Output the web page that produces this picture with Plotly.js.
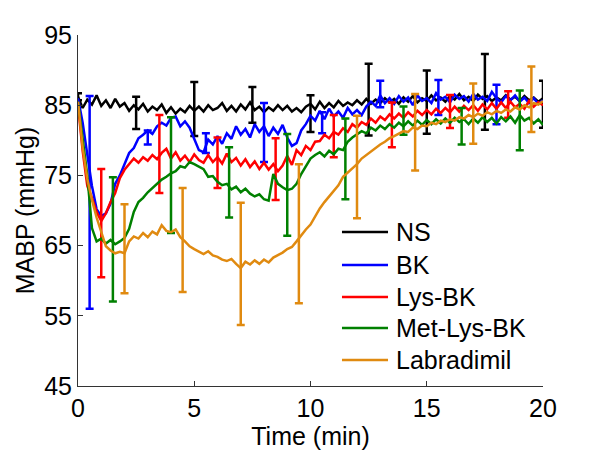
<!DOCTYPE html>
<html>
<head>
<meta charset="utf-8">
<script src="https://cdn.plot.ly/plotly-3.0.1.min.js"></script>
<style>html,body{margin:0;padding:0;background:#fff;}#chart{width:600px;height:450px;}</style>
</head>
<body>
<div id="chart"></div>
<script>
// Mean arterial blood pressure traces, sampled every 0.2 min from 0 to 20 min
const NS = [86.2,84.6,85.8,85.1,86.4,84.9,85.7,84.6,85.9,84.8,85.3,84.2,85.0,84.4,85.2,84.1,84.8,84.3,85.1,83.9,
84.7,83.8,84.5,84.0,84.9,84.2,84.8,84.1,85.0,84.3,84.6,85.3,84.2,84.9,84.1,85.1,84.4,85.4,84.3,84.8,
84.0,84.7,84.2,85.0,84.3,84.9,84.1,84.6,84.0,84.8,85.2,84.4,85.5,84.6,85.3,84.7,85.6,84.9,85.4,85.0,
85.7,85.1,85.9,85.2,85.8,85.3,86.0,85.4,85.9,85.2,86.1,85.5,86.3,85.4,86.0,85.6,86.4,85.7,86.1,85.5,
86.3,85.8,86.6,85.7,86.2,85.6,86.5,85.9,86.3,85.6,86.1,85.7,86.4,85.8,86.2,85.6,86.3,85.7,86.1,85.5,86.0];
const BK = [86.0,82.5,78.0,73.5,70.2,69.2,69.6,71.0,73.8,75.0,76.6,78.2,78.9,80.3,80.8,81.4,80.9,82.0,82.5,82.1,
83.2,83.4,82.0,82.7,81.8,80.2,78.6,78.3,80.1,79.4,80.6,79.5,81.0,80.2,82.0,80.8,81.6,80.4,82.3,81.2,
82.0,80.6,81.8,80.9,82.2,80.4,79.2,79.6,81.4,82.3,83.5,82.8,84.2,83.0,84.5,83.4,84.1,83.2,84.6,83.7,
84.3,83.6,84.8,85.5,84.9,86.4,85.3,86.0,85.2,86.3,85.5,86.1,85.0,86.4,85.6,86.0,85.3,86.7,85.8,86.2,
85.4,86.5,85.9,86.3,85.5,86.6,85.8,86.2,85.6,86.9,86.0,85.4,86.3,85.7,86.4,85.5,86.1,85.3,86.0,85.2,85.7];
const LYS_BK = [85.0,78.5,73.5,71.8,69.8,68.5,69.6,71.2,72.5,74.6,75.8,76.6,77.4,76.8,77.6,77.1,77.9,77.3,78.2,78.8,
77.4,78.3,77.1,77.8,76.9,78.0,77.2,76.8,77.9,76.9,77.6,76.7,78.1,76.9,77.5,76.4,77.3,76.2,77.0,75.9,
76.8,75.8,76.6,75.6,76.4,77.8,76.5,78.6,77.9,79.2,78.6,79.8,79.9,80.8,80.3,81.2,80.8,81.7,81.2,82.3,
81.8,82.6,82.2,83.1,82.5,83.4,82.9,83.7,83.1,83.8,83.2,84.0,83.4,84.2,83.6,84.3,83.7,84.5,83.9,84.6,
84.0,84.8,84.1,84.9,84.3,85.0,84.2,85.1,84.4,85.3,84.5,85.4,84.6,85.5,84.7,85.2,84.5,85.6,84.8,85.4,85.0];
const MET_LYS_BK = [85.5,80.5,75.0,67.5,65.6,66.0,65.3,65.8,65.2,65.6,66.1,67.4,69.8,71.2,71.8,72.6,73.2,73.9,74.4,74.8,
75.3,75.6,76.3,76.1,76.9,76.6,76.2,75.9,74.8,74.9,74.1,73.6,73.8,73.0,73.4,72.6,73.1,72.4,72.0,72.3,
71.6,71.4,75.2,73.8,73.3,72.9,73.1,73.8,75.2,76.4,77.4,77.9,78.3,77.7,78.5,78.0,78.8,78.6,79.8,80.4,
80.9,81.3,81.0,81.8,81.4,82.1,81.6,82.3,81.8,82.5,82.0,82.7,82.1,82.8,82.2,82.9,82.3,83.0,82.4,83.1,
82.5,83.2,82.6,83.0,82.3,83.1,82.5,83.3,82.6,83.2,82.4,83.3,82.7,83.4,82.5,83.6,82.8,83.2,82.4,83.0,82.2];
const LABRADIMIL = [85.5,79.0,74.5,71.5,69.0,66.8,64.9,64.3,63.9,64.1,63.9,65.6,66.3,66.0,66.8,66.2,67.0,66.6,67.9,67.1,
66.9,67.3,66.2,65.6,64.9,64.5,64.1,63.8,64.2,63.6,63.4,63.0,62.8,63.1,62.4,61.8,62.7,62.3,62.9,62.4,
63.0,62.6,63.3,63.6,64.0,64.5,64.8,65.6,66.5,67.3,68.0,69.2,70.3,71.2,72.0,72.8,73.6,74.8,75.4,75.9,
76.6,77.4,77.9,78.5,78.9,79.4,79.8,80.3,80.6,81.0,81.3,81.2,81.8,81.6,82.1,82.0,82.5,82.3,82.8,82.6,
83.0,82.8,83.3,83.1,83.6,83.3,83.8,83.5,84.0,83.7,84.2,83.9,84.4,84.1,84.7,84.4,85.0,84.7,85.3,85.1,85.6];
const TIME = NS.map((_, i) => Math.round(i * 2) / 10);

// Error bars (time, mean, +/- error)
const NS_ERR_T = [0, 2.5, 5, 7.5, 10, 12.5, 15, 17.5, 20];
const NS_ERR_Y = [86.2, 83.9, 84.45, 85.05, 83.8, 85.8, 85.45, 86.9, 85.15];
const NS_ERR_E = [0.5, 2.3, 3.85, 2.55, 2.6, 5.1, 4.5, 5.4, 3.35];
const BK_ERR_T = [0.5, 3, 5.5, 8, 10.5, 13, 15.5, 18];
const BK_ERR_Y = [71.15, 80.4, 79.6, 81.1, 82.5, 86.6, 86.1, 85.1];
const BK_ERR_E = [15.15, 1.0, 1.4, 4.2, 1.5, 1.9, 2.5, 2.8];
const LYS_ERR_T = [1, 3.5, 6, 8.5, 11, 13.5, 16, 18.5];
const LYS_ERR_Y = [68.2, 78.05, 76.8, 75.9, 80.6, 82.2, 84.1, 85.1];
const LYS_ERR_E = [7.7, 5.55, 3.6, 4.4, 3.0, 3.2, 2.35, 1.9];
const MET_ERR_T = [1.5, 4, 6.5, 9, 11.5, 14, 16.5, 19];
const MET_ERR_Y = [65.9, 75.05, 74.0, 73.65, 77.35, 82.8, 82.0, 82.85];
const MET_ERR_E = [8.85, 8.25, 5.0, 7.25, 5.75, 2.0, 2.6, 4.25];
const LAB_ERR_T = [2, 4.5, 7, 9.5, 12, 14.5, 17, 19.5];
const LAB_ERR_Y = [64.55, 65.8, 62.4, 66.7, 76.2, 81.15, 83.8, 85.85];
const LAB_ERR_E = [6.35, 7.4, 8.7, 9.9, 7.3, 5.45, 4.3, 4.65];

const NAMES = ['NS', 'BK', 'Lys-BK', 'Met-Lys-BK', 'Labradimil'];
const COLORS = ['#000000', '#0000FF', '#FF0000', '#008000', '#E08A10'];

const series = [NS, BK, LYS_BK, MET_LYS_BK, LABRADIMIL];
const errs = [
  [NS_ERR_T, NS_ERR_Y, NS_ERR_E],
  [BK_ERR_T, BK_ERR_Y, BK_ERR_E],
  [LYS_ERR_T, LYS_ERR_Y, LYS_ERR_E],
  [MET_ERR_T, MET_ERR_Y, MET_ERR_E],
  [LAB_ERR_T, LAB_ERR_Y, LAB_ERR_E]
];

const traces = [];
series.forEach((s, i) => {
  traces.push({
    x: TIME, y: s, type: 'scatter', mode: 'lines', name: NAMES[i],
    line: {color: COLORS[i], width: 2.5}, showlegend: false
  });
  traces.push({
    x: errs[i][0], y: errs[i][1], type: 'scatter', mode: 'markers',
    marker: {size: 1, color: COLORS[i], opacity: 0},
    error_y: {type: 'data', array: errs[i][2], visible: true, color: COLORS[i], thickness: 2.5, width: 4},
    showlegend: false, hoverinfo: 'skip'
  });
});

// Legend drawn as paper-space lines with text labels
const LEG_Y = [0.4387, 0.3447, 0.2536, 0.1652, 0.0741];
const shapes = NAMES.map((n, i) => ({
  type: 'line', xref: 'paper', yref: 'paper', x0: 0.5677, x1: 0.6667, y0: LEG_Y[i], y1: LEG_Y[i],
  line: {color: COLORS[i], width: 2.5}
}));
const FONT = 'Liberation Sans, Arial, sans-serif';
const annotations = NAMES.map((n, i) => ({
  text: n, xref: 'paper', yref: 'paper', x: 0.6796, y: LEG_Y[i], xanchor: 'left', yanchor: 'middle',
  showarrow: false, font: {family: FONT, size: 25, color: '#000'}
}));

const layout = {
  width: 600, height: 450,
  margin: {l: 78, r: 57, t: 35, b: 64},
  paper_bgcolor: '#fff', plot_bgcolor: '#fff',
  font: {family: FONT, size: 25, color: '#000'},
  showlegend: false,
  shapes: shapes,
  annotations: annotations,
  xaxis: {
    range: [0, 20], tickvals: [0, 5, 10, 15, 20], ticktext: ['0', '5', '10', '15', '20'],
    showgrid: false, zeroline: false, showline: true, linecolor: '#333', linewidth: 1,
    ticks: 'inside', ticklen: 5, tickcolor: '#333',
    tickfont: {family: FONT, size: 25, color: '#000'},
    title: {text: 'Time (min)', font: {family: FONT, size: 25, color: '#000'}, standoff: 0}
  },
  yaxis: {
    range: [45, 95], tickvals: [45, 55, 65, 75, 85, 95], ticktext: ['45', '55', '65', '75', '85', '95'],
    showgrid: false, zeroline: false, showline: true, linecolor: '#333', linewidth: 1,
    ticks: 'inside', ticklen: 5, tickcolor: '#333',
    tickfont: {family: FONT, size: 25, color: '#000'},
    title: {text: 'MABP (mmHg)', font: {family: FONT, size: 25, color: '#000'}, standoff: 2}
  }
};

Plotly.newPlot('chart', traces, layout, {staticPlot: true, displayModeBar: false});
</script>
</body>
</html>
